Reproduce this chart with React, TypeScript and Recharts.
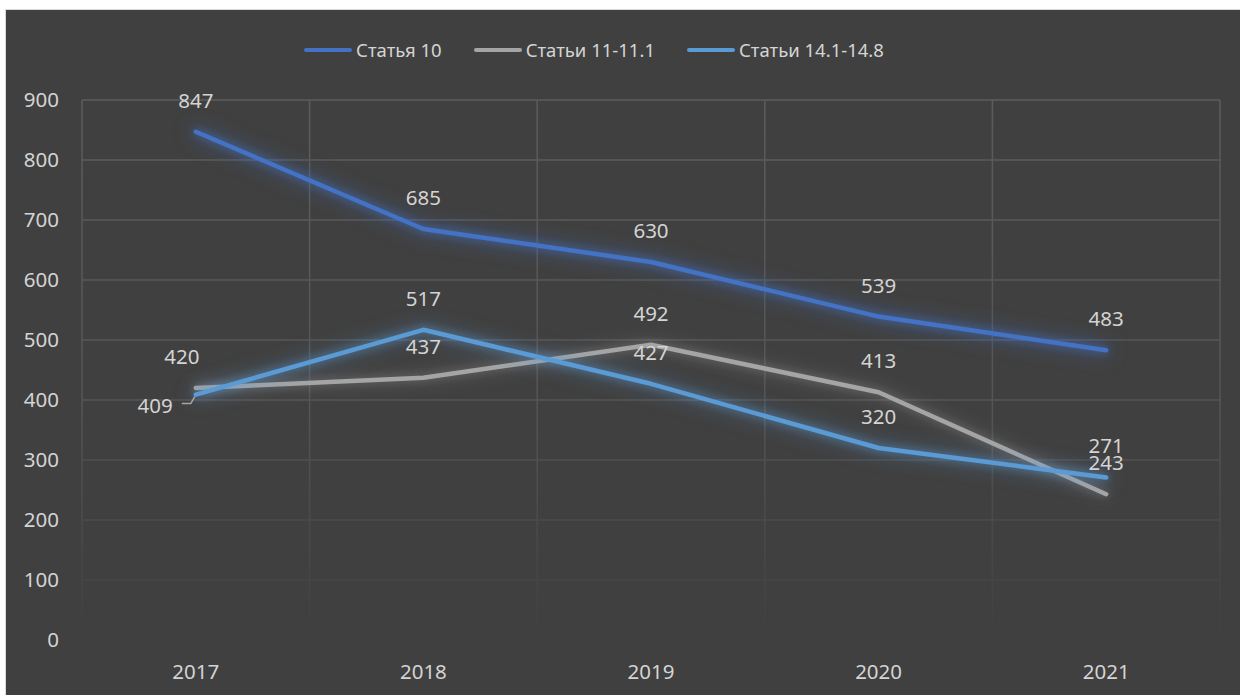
import { CartesianGrid, LabelList, Line, LineChart, XAxis, YAxis } from 'recharts';

const years = ['2017', '2018', '2019', '2020', '2021'];
const article10 = [847, 685, 630, 539, 483];
const articles11 = [420, 437, 492, 413, 243];
const articles14 = [409, 517, 427, 320, 271];
const yTicks = [0, 100, 200, 300, 400, 500, 600, 700, 800, 900];

const series = [
  { key: 'a10', name: 'Статья 10', color: '#4472C4', glow: 'rgba(68,114,196,0.7)' },
  { key: 'a11', name: 'Статьи 11-11.1', color: '#A5A5A5', glow: 'rgba(150,150,150,0.45)' },
  { key: 'a14', name: 'Статьи 14.1-14.8', color: '#5B9BD5', glow: 'rgba(91,155,213,0.6)' },
];

const data = years.map((year, i) => ({
  year,
  a10: article10[i],
  a11: articles11[i],
  a14: articles14[i],
}));

const FONT = '"Noto Sans", "Open Sans", sans-serif';
const TEXT = '#d4d4d4';

function makeLabel(seriesKey: string) {
  return (props: any) => {
    const { x, y, value, index } = props;
    if (seriesKey === 'a14' && index === 0) {
      return (
        <g>
          <polyline
            points={`${x - 14},${y + 9} ${x - 5},${y + 9} ${x - 1},${y + 2}`}
            fill="none"
            stroke="#a6a6a6"
            strokeWidth={1.5}
          />
          <text x={x - 23} y={y + 10} textAnchor="end" dominantBaseline="central"
            fill={TEXT} fontSize={20.5} fontFamily={FONT}>
            {value}
          </text>
        </g>
      );
    }
    const dx = seriesKey === 'a11' && index === 0 ? -14 : 0;
    return (
      <text x={x + dx} y={y - 32} textAnchor="middle" dominantBaseline="central"
        fill={TEXT} fontSize={20.5} fontFamily={FONT}>
        {value}
      </text>
    );
  };
}

// vertical grid lines sit on the category boundaries, not the centres
const boundaryLines = (props: any) => {
  const off = props.offset;
  return years.map((_, i) => off.left + (i * off.width) / years.length).concat(off.left + off.width);
};

export default function App() {
  return (
    <div style={{ position: 'absolute', left: 0, top: 0, width: 1240, height: 695, background: '#fff', overflow: 'hidden' }}>
      <style>{series
        .map((s) => `.line-${s.key} .recharts-line-curve { filter: drop-shadow(0 0 4px ${s.glow}) drop-shadow(0 0 9px ${s.glow}); }`)
        .join('\n')}</style>
      <div style={{ position: 'absolute', left: 5, top: 9, width: 1260, height: 720, border: '1px solid #d9d9d9', background: '#404040' }} />

      <div style={{
        position: 'absolute', left: 0, top: 37, width: 1188, display: 'flex', justifyContent: 'center',
        gap: 32, fontFamily: FONT, fontSize: 18.5, color: TEXT, alignItems: 'center',
      }}>
        {series.map((s) => (
          <div key={s.key} style={{ display: 'flex', alignItems: 'center' }}>
            <span style={{ display: 'inline-block', width: 48, height: 4, borderRadius: 2, background: s.color, marginRight: 4 }} />
            <span>{s.name}</span>
          </div>
        ))}
      </div>

      <div style={{ position: 'absolute', left: 0, top: 0 }}>
        <LineChart width={1240} height={695} data={data} margin={{ top: 100, right: 20, bottom: 25, left: 0 }}>
          <defs>
            <linearGradient id="gridFade" gradientUnits="userSpaceOnUse" x1="0" y1="100" x2="0" y2="640">
              <stop offset="0" stopColor="#5c5c5c" />
              <stop offset="0.55" stopColor="#555555" />
              <stop offset="1" stopColor="#404040" />
            </linearGradient>
          </defs>
          <CartesianGrid stroke="url(#gridFade)" strokeWidth={1.5} verticalCoordinatesGenerator={boundaryLines} />
          <XAxis
            dataKey="year"
            scale="band"
            height={30}
            axisLine={false}
            tickLine={false}
            tickSize={0}
            tickMargin={24}
            tick={{ fill: TEXT, fontSize: 20.5, fontFamily: FONT }}
          />
          <YAxis
            width={82}
            domain={[0, 900]}
            ticks={yTicks}
            axisLine={false}
            tickLine={false}
            tickSize={0}
            tickMargin={23}
            tick={{ fill: TEXT, fontSize: 20.5, fontFamily: FONT }}
          />
          {series.map((s) => (
            <Line
              key={s.key}
              className={`line-${s.key}`}
              dataKey={s.key}
              name={s.name}
              stroke={s.color}
              strokeWidth={4.5}
              strokeLinecap="round"
              strokeLinejoin="round"
              dot={false}
              activeDot={false}
              isAnimationActive={false}
            >
              <LabelList dataKey={s.key} content={makeLabel(s.key)} />
            </Line>
          ))}
        </LineChart>
      </div>
    </div>
  );
}
